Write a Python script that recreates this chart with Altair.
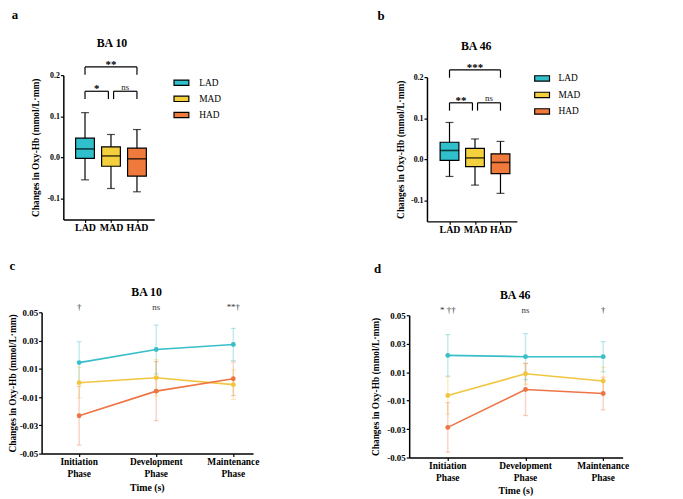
import altair as alt
import pandas as pd

FONT = "Liberation Serif, Times New Roman, serif"

# ---------------- data ----------------
groups = ["LAD", "MAD", "HAD"]
box_colors = ["#2fc0cc", "#f4cf3e", "#f07a3c"]
line_colors = ["#37bec9", "#f1c63f", "#ee7444"]

# a: BA 10 box-plot summaries (min, q1, median, q3, max)
a_min = [-0.054, -0.075, -0.083]
a_q1 = [-0.002, -0.021, -0.045]
a_med = [0.021, 0.004, -0.003]
a_q3 = [0.047, 0.026, 0.023]
a_max = [0.109, 0.056, 0.068]
a_sig = ["**", "*", "ns"]

# b: BA 46
b_min = [-0.041, -0.062, -0.082]
b_q1 = [-0.002, -0.017, -0.034]
b_med = [0.022, 0.004, -0.007]
b_q3 = [0.042, 0.027, 0.014]
b_max = [0.090, 0.050, 0.044]
b_sig = ["***", "**", "ns"]

sig_pairs = [(0, 2), (0, 1), (1, 2)]

box_yticks = [-0.1, 0.0, 0.1, 0.2]
box_ylabels = ["-0.1", "0.0", "0.1", "0.2"]

phases = ["Initiation Phase", "Development Phase", "Maintenance Phase"]

# c: BA 10 time course (mean, error)
c_LAD = [0.0144, 0.0237, 0.0272]
c_MAD = [0.0002, 0.0037, -0.0012]
c_HAD = [-0.0232, -0.0058, 0.0030]
c_LAD_se = [0.0148, 0.0173, 0.0114]
c_MAD_se = [0.0110, 0.0128, 0.0105]
c_HAD_se = [0.0208, 0.0209, 0.0119]
c_ann = ["†", "ns", "**†"]

# d: BA 46 time course
d_LAD = [0.0218, 0.0209, 0.0209]
d_MAD = [-0.0064, 0.0089, 0.0038]
d_HAD = [-0.0288, -0.0022, -0.0050]
d_LAD_se = [0.0146, 0.0162, 0.0106]
d_MAD_se = [0.0131, 0.0074, 0.0097]
d_HAD_se = [0.0174, 0.0183, 0.0115]
d_ann = ["* ††", "ns", "†"]

line_yticks = [-0.05, -0.03, -0.01, 0.01, 0.03, 0.05]
line_ylabels = ["-0.05", "-0.03", "-0.01", "0.01", "0.03", "0.05"]

YTITLE = "Changes in Oxy-Hb (mmol/L·mm)"
XTITLE = "Time (s)"


# ---------------- helpers ----------------
def js_list(items):
    out = []
    for s in items:
        if isinstance(s, (list, tuple)):
            out.append(js_list(s))
        else:
            out.append("'" + str(s) + "'")
    return "[" + ",".join(out) + "]"


def index_label_expr(labels):
    return js_list(labels) + "[round(datum.value)]"


def value_label_expr(vals, labels):
    keys = "[" + ",".join(str(int(round(v * 1000))) for v in vals) + "]"
    return js_list(labels) + "[indexof(" + keys + ", round(datum.value*1000))]"


def text_layer(txt, px, py, size, baseline="alphabetic"):
    return alt.Chart(pd.DataFrame({"t": [txt]})).mark_text(
        font=FONT, fontSize=size, fontWeight="bold", align="center",
        baseline=baseline, color="black"
    ).encode(text="t:N", x=alt.value(px), y=alt.value(py))


# Each panel lives in a grid cell; its plot rectangle is placed inside the cell
# through explicit scale ranges (xr, yr) and axis offsets.
def box_panel(mins, q1s, meds, q3s, maxs, sig, xdom, xr, yr, cell_w, cell_h, ylev,
              title, tpos, letter, lpos, ytx, legx, legy, legoff, legrow):
    df = pd.DataFrame({"group": groups, "idx": [0, 1, 2], "lo": mins, "q1": q1s,
                       "med": meds, "q3": q3s, "hi": maxs})
    xs = alt.Scale(domain=xdom, range=xr, nice=False, zero=False)
    ys = alt.Scale(domain=[-0.15, 0.2], range=yr, nice=False, zero=False)
    xaxis = alt.Axis(values=[0, 1, 2], labelExpr=index_label_expr(groups), title=None,
                     labelFontSize=10, labelFontWeight="bold", labelPadding=0,
                     tickSize=3, labelAngle=0, offset=yr[0] - cell_h)
    yaxis = alt.Axis(values=box_yticks, labelExpr=value_label_expr(box_yticks, box_ylabels),
                     title=YTITLE, titleFontSize=9.5, titleFontWeight="bold",
                     titleAngle=270, titleBaseline="bottom", titleX=ytx,
                     titleY=(yr[0] + yr[1]) / 2,
                     labelFontSize=8, labelFontWeight="bold", tickSize=3, labelPadding=1,
                     offset=-xr[0])

    def X(f="idx"):
        return alt.X(f + ":Q", scale=xs, axis=xaxis)

    def Y(f):
        return alt.Y(f + ":Q", scale=ys, axis=yaxis)

    base = alt.Chart(df)
    whisker = base.mark_rule(color="black", strokeWidth=1.2).encode(
        x=X(), y=Y("lo"), y2="hi:Q")
    box = base.mark_bar(size=19, stroke="black", strokeWidth=1.2).encode(
        x=X(), y=Y("q1"), y2="q3:Q",
        fill=alt.Fill("group:N", scale=alt.Scale(domain=groups, range=box_colors),
                      legend=alt.Legend(title=None, orient="none", legendX=legx, legendY=legy,
                                        symbolType="M-1,-0.36H1V0.36H-1Z", symbolSize=225,
                                        symbolStrokeColor="black", symbolStrokeWidth=1.2,
                                        labelFont=FONT, labelFontSize=9.5, labelColor="black",
                                        labelOffset=legoff, rowPadding=legrow, padding=0)))
    med = base.mark_tick(orient="horizontal", size=19, thickness=1.6, color="black").encode(
        x=X(), y=Y("med"))
    cap_lo = base.mark_tick(orient="horizontal", size=8, thickness=1.2, color="black").encode(
        x=X(), y=Y("lo"))
    cap_hi = base.mark_tick(orient="horizontal", size=8, thickness=1.2, color="black").encode(
        x=X(), y=Y("hi"))

    rows = []
    for (i, j), lab in zip(sig_pairs, sig):
        top = (j - i) == 2
        x1 = i + (0.1 if (not top and i == 1) else 0.0)
        x2 = j - (0.1 if (not top and j == 1) else 0.0)
        yt = ylev[0] if top else ylev[1]
        rows.append(dict(x1=x1, x2=x2, xm=(x1 + x2) / 2, yt=yt, yb=yt - 0.019, label=lab))
    bdf = pd.DataFrame(rows)
    bb = alt.Chart(bdf)
    hline = bb.mark_rule(color="black", strokeWidth=1.2).encode(x=X("x1"), x2="x2:Q", y=Y("yt"))
    lv = bb.mark_rule(color="black", strokeWidth=1.2).encode(x=X("x1"), y=Y("yt"), y2="yb:Q")
    rv = bb.mark_rule(color="black", strokeWidth=1.2).encode(x=X("x2"), y=Y("yt"), y2="yb:Q")
    stars = bb.transform_filter("datum.label != 'ns'").mark_text(
        font=FONT, fontSize=11, fontWeight="bold", baseline="alphabetic", dy=1, color="black"
    ).encode(x=X("xm"), y=Y("yt"), text="label:N")
    ns = bb.transform_filter("datum.label == 'ns'").mark_text(
        font=FONT, fontSize=9, fontWeight="normal", baseline="alphabetic", dy=-1.5, color="#222"
    ).encode(x=X("xm"), y=Y("yt"), text="label:N")

    t = text_layer(title, tpos[0], tpos[1], 12)
    l = text_layer(letter, lpos[0], lpos[1], 13)
    return alt.layer(whisker, box, med, cap_lo, cap_hi, hline, lv, rv,
                     stars, ns, t, l).properties(width=cell_w, height=cell_h)


def line_panel(series, ses, ann, xdom, xr, yr, cell_w, cell_h, title, tpos, letter, lpos,
               ytx, lab_y, xtitle_y, legx, legy, legfont, legrow):
    rows = []
    for g, m, s in zip(groups, series, ses):
        for k in range(3):
            rows.append(dict(group=g, idx=k, mean=m[k], lo=m[k] - s[k], hi=m[k] + s[k]))
    df = pd.DataFrame(rows)
    ydom = [-0.05, 0.05]
    xs = alt.Scale(domain=xdom, range=xr, nice=False, zero=False)
    ys = alt.Scale(domain=ydom, range=yr, nice=False, zero=False)
    cscale = alt.Scale(domain=groups, range=line_colors)
    xaxis = alt.Axis(values=[0, 1, 2], labels=False, title=None, tickSize=3,
                     offset=yr[0] - cell_h)
    yaxis = alt.Axis(values=line_yticks, labelExpr=value_label_expr(line_yticks, line_ylabels),
                     title=YTITLE, titleFontSize=9.5, titleFontWeight="bold",
                     titleAngle=270, titleBaseline="bottom", titleX=ytx,
                     titleY=(yr[0] + yr[1]) / 2,
                     labelFontSize=9, labelFontWeight="bold", tickSize=3, labelPadding=1,
                     offset=-xr[0])

    def X():
        return alt.X("idx:Q", scale=xs, axis=xaxis)

    def Y(f):
        return alt.Y(f + ":Q", scale=ys, axis=yaxis)

    def C(legend=None):
        return alt.Color("group:N", scale=cscale, legend=legend)

    base = alt.Chart(df)
    err = base.mark_rule(strokeWidth=1.5, opacity=0.3).encode(
        x=X(), y=Y("lo"), y2="hi:Q", color=C())
    cap_lo = base.mark_tick(orient="horizontal", size=5, thickness=1.2, opacity=0.35).encode(
        x=X(), y=Y("lo"), color=C())
    cap_hi = base.mark_tick(orient="horizontal", size=5, thickness=1.2, opacity=0.35).encode(
        x=X(), y=Y("hi"), color=C())
    leg = alt.Legend(title=None, orient="none", legendX=legx, legendY=legy,
                     symbolType="M-1.2,0H1.2M0.25,0A0.25,0.25,0,1,1,-0.25,0A0.25,0.25,0,1,1,0.25,0Z",
                     symbolSize=225, symbolStrokeWidth=1.6, labelFont=FONT,
                     labelFontSize=legfont, labelColor="black", labelOffset=6.5,
                     rowPadding=legrow, padding=0)
    line = base.mark_line(strokeWidth=1.6).encode(x=X(), y=Y("mean"), color=C(leg))
    pts = base.mark_point(filled=True, size=24, opacity=1).encode(x=X(), y=Y("mean"), color=C())

    adf = pd.DataFrame({"idx": [0, 1, 2], "label": ann, "ytop": [ydom[1]] * 3})
    annot = alt.Chart(adf).mark_text(font=FONT, fontSize=9, baseline="middle", dy=-5,
                                     color="#333").encode(x=X(), y=Y("ytop"), text="label:N")

    # two-line phase labels under the axis ticks, and the x-axis title
    ldf = pd.DataFrame({"idx": [0, 1, 2],
                        "l1": [p.split(" ")[0] for p in phases],
                        "l2": [p.split(" ")[1] for p in phases]})
    lab1 = alt.Chart(ldf).mark_text(font=FONT, fontSize=9.5, fontWeight="bold",
                                    baseline="middle", color="black").encode(
        x=X(), y=alt.value(lab_y[0]), text="l1:N")
    lab2 = alt.Chart(ldf).mark_text(font=FONT, fontSize=9.5, fontWeight="bold",
                                    baseline="middle", color="black").encode(
        x=X(), y=alt.value(lab_y[1]), text="l2:N")
    xt = text_layer(XTITLE, (xr[0] + xr[1]) / 2, xtitle_y, 10, baseline="middle")

    t = text_layer(title, tpos[0], tpos[1], 12)
    l = text_layer(letter, lpos[0], lpos[1], 13)
    return alt.layer(err, cap_lo, cap_hi, line, pts, annot, lab1, lab2, xt, t, l).properties(
        width=cell_w, height=cell_h)


# ---------------- panels ----------------
pa = box_panel(a_min, a_q1, a_med, a_q3, a_max, a_sig, [-0.644, 2.475], [22, 114], [146, 0],
               214, 148, [0.2199, 0.1609], "BA 10", (71.2, -28.3), "a", (-27, -56.5),
               -23.5, 133, -0.8, 9.5, 2.3)
pb = box_panel(b_min, b_q1, b_med, b_q3, b_max, b_sig, [-0.69, 2.45], [18, 109], [148, 2],
               216, 148, [0.2175, 0.1377], "BA 46", (67.8, -25), "b", (-28.5, -55.5),
               -21.5, 126, -5.2, 8, 2.7)
pc = line_panel([c_LAD, c_MAD, c_HAD], [c_LAD_se, c_MAD_se, c_HAD_se], c_ann,
                [-0.487, 2.256], [0, 214], [143, 0], 214, 147, "BA 10", (106.2, -16),
                "c", (-29.5, -42.7), -24, (152, 164), 178, 227.5, 2.5, 9, 2)
pd_ = line_panel([d_LAD, d_MAD, d_HAD], [d_LAD_se, d_MAD_se, d_HAD_se], d_ann,
                 [-0.497, 2.25], [0, 216], [147, 3], 216, 147, "BA 46", (107.3, -13.3),
                 "d", (-32, -39.3), -29.5, (155.7, 167.3), 180.5, 225.5, 5.5, 8.5, 2.3)

chart = alt.concat(pa, pb, pc, pd_, columns=2, spacing={"row": 92, "column": 158},
                   bounds="flush")
chart = chart.resolve_scale(color="independent", fill="independent").resolve_legend(
    color="independent", fill="independent")

chart = chart.properties(
    autosize=alt.AutoSizeParams(type="none"),
    padding={"left": 34, "top": 65, "right": 641, "bottom": 426},
    background="white",
).configure_view(stroke=None).configure_axis(
    labelFont=FONT, titleFont=FONT, domainColor="black", tickColor="black",
    labelColor="black", titleColor="black", grid=False, domainWidth=1.5, tickWidth=1.2,
)

chart.save("out.html", embed_options={"renderer": "svg", "actions": False})
